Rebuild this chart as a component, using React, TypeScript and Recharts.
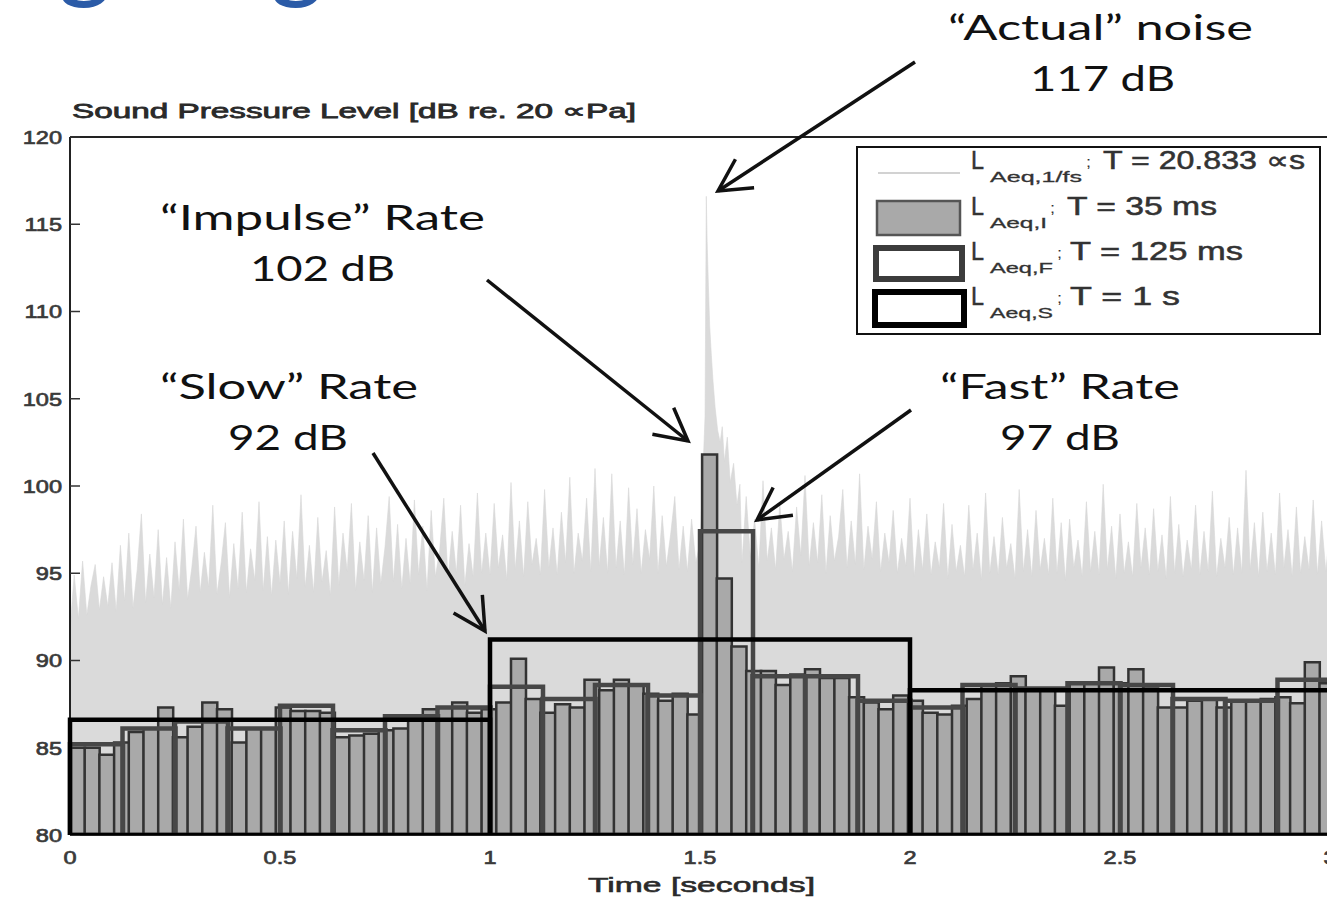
import React from "react"
import { ComposedChart, BarChart, Bar, Area, XAxis, YAxis } from "recharts"

const W = 1345
const H = 899
const PLOT = { left: 70, top: 137, right: 1330, bottom: 835 }
const SPAN = 3 // seconds
const PX_PER_S = (PLOT.right - PLOT.left) / SPAN

const xTicks = [0, 0.5, 1, 1.5, 2, 2.5, 3]
const yTicks = [80, 85, 90, 95, 100, 105, 110, 115, 120]

// L_Aeq,1/fs trace read every 10 ms, the impulse window is listed on its own
const noiseStep = 0.01
const noiseDbA = [
  91.8, 94.9, 92.4, 95.7, 92.6, 94.3, 95.5, 92.9, 94.8, 93.1,
  95.6, 92.8, 96.6, 93.4, 97.3, 93.0, 95.2, 98.4, 93.3, 96.1,
  93.6, 97.5, 93.2, 95.9, 93.0, 96.8, 94.0, 98.1, 93.5, 95.3,
  97.7, 93.9, 96.2, 94.2, 98.9, 93.8, 95.6, 97.9, 93.6, 96.7,
  94.1, 98.5, 93.9, 96.4, 94.6, 99.1, 94.0, 97.1, 93.7, 96.9,
  94.4, 98.0, 93.8, 97.4, 94.7, 99.5, 94.2, 96.6, 93.9, 98.2,
  94.5, 96.3, 93.7, 98.8, 94.3, 97.3, 95.1, 99.0, 94.0, 96.8,
  94.6, 98.3, 93.9, 97.6, 94.4, 96.5, 99.4, 94.5, 97.8, 94.1,
  97.0, 94.4, 99.2, 94.9, 97.7, 94.0, 98.6, 94.8, 96.3, 99.3,
  94.7, 97.4, 95.0, 98.9, 94.3, 96.7, 94.8, 99.6, 95.0, 97.3,
  94.9, 99.0, 95.3, 97.2, 94.6, 100.2, 95.2, 98.0, 94.8, 99.1,
  95.5, 97.0, 94.9, 99.8, 95.3, 97.6, 94.9, 98.5, 95.6, 100.5,
  95.0, 97.3, 95.7, 99.3, 95.1, 101.0, 95.4, 98.2, 95.0, 100.7,
  95.3, 98.0, 94.9, 99.9, 95.5, 98.7, 95.0, 97.5, 95.8, 100.0,
  95.0, 98.3, 95.4, 97.2, 99.4, 95.2, 97.7, 95.1, 98.1, 95.6,
  96.8,
]
const peakT = [1.505, 1.512, 1.515, 1.517, 1.52, 1.523, 1.527, 1.531, 1.536, 1.542, 1.548, 1.553, 1.558, 1.565, 1.572, 1.58, 1.588, 1.595]
const peakDb = [99.5, 104.0, 116.6, 114.0, 111.5, 109.2, 107.5, 106.0, 104.5, 103.2, 102.5, 103.4, 101.4, 102.8, 100.2, 101.3, 98.9, 100.1]
const noiseStartB = 1.6
const noiseDbB = [
  95.6, 99.4, 95.9, 98.1, 95.3, 100.3, 95.7, 97.6, 95.2, 99.0,
  95.8, 97.4, 95.1, 98.8, 96.0, 100.6, 95.4, 97.9, 95.6, 99.5,
  95.0, 98.3, 95.7, 97.1, 99.8, 95.3, 98.0, 95.5, 100.7, 95.2,
  97.7, 95.8, 99.1, 95.1, 97.3, 95.6, 98.6, 95.0, 97.0, 95.4,
  99.3, 94.8, 97.5, 95.2, 98.4, 94.9, 96.8, 95.3, 99.0, 94.7,
  97.8, 95.1, 96.6, 94.8, 98.9, 95.2, 97.3, 94.6, 99.6, 95.0,
  97.1, 94.9, 98.2, 95.3, 96.7, 94.7, 99.8, 95.1, 97.5, 94.8,
  98.6, 95.2, 97.0, 94.9, 99.3, 95.0, 97.9, 94.6, 98.1, 95.3,
  96.9, 94.8, 99.1, 95.1, 97.4, 94.9, 100.1, 95.2, 97.7, 94.7,
  98.4, 95.0, 96.8, 94.8, 99.0, 95.3, 97.6, 94.9, 98.7, 95.1,
  97.2, 94.7, 99.4, 95.0, 97.8, 94.8, 96.9, 95.2, 98.9, 94.9,
  97.4, 95.1, 99.7, 94.8, 97.0, 95.3, 98.2, 94.9, 97.6, 95.0,
  100.9, 95.2, 97.9, 94.8, 98.5, 95.1, 97.3, 94.9, 99.6, 95.3,
  97.5, 94.8, 98.8, 95.0, 97.1, 95.2, 99.2, 94.9, 98.0, 95.1,
  97.6,
]

// L_Aeq,I  T = 35 ms
const impulseWin = 0.035
const impulseDb = [
  85.0, 85.0, 84.6, 85.3, 85.9, 86.1, 87.3, 85.6, 86.2, 87.6,
  87.2, 85.3, 86.1, 86.1, 87.3, 87.1, 87.1, 87.0, 85.6, 85.7,
  85.8, 86.0, 86.1, 86.8, 87.2, 87.3, 87.6, 87.0, 87.2, 87.6,
  90.1, 87.8, 87.0, 87.5, 87.3, 88.9, 88.3, 88.9, 88.6, 88.1,
  87.7, 88.1, 86.9, 101.8, 94.7, 90.8, 89.4, 89.4, 88.6, 89.2,
  89.5, 89.0, 89.0, 87.9, 87.6, 87.2, 88.0, 87.7, 87.0, 86.9,
  87.4, 87.8, 88.6, 88.7, 89.1, 88.4, 88.3, 87.4, 88.7, 88.7,
  89.6, 88.7, 89.5, 88.4, 87.3, 87.3, 87.7, 87.8, 87.3, 87.7,
  87.7, 87.8, 87.9, 87.55, 89.9, 88.7,
]

// L_Aeq,F  T = 125 ms
const fastWin = 0.125
const fastDb = [
  85.2, 86.1, 86.5, 86.1, 87.4, 86.0, 86.8, 87.3,
  88.5, 87.8, 88.6, 88.0, 97.4, 89.1, 89.1, 87.7,
  87.3, 88.6, 88.4, 88.7, 88.6, 87.8, 87.7, 88.9,
]

// L_Aeq,S  T = 1 s
const slowWin = 1
const slowDb = [86.6, 91.2, 88.3]

const noiseData = [
  ...noiseDbA.map((db, i) => ({ t: +(i * noiseStep).toFixed(3), db })),
  ...peakT.map((t, i) => ({ t, db: peakDb[i] })),
  ...noiseDbB.map((db, i) => ({ t: +(noiseStartB + i * noiseStep).toFixed(3), db })),
]
const impulseData = impulseDb.map((db, k) => ({ k, db }))
const fastData = fastDb.map((db, k) => ({ k, db }))
const slowData = slowDb.map((db, k) => ({ k, db }))

const SANS = "'Liberation Sans', Arial, sans-serif"
const SLIDE = "Lato, 'Open Sans', sans-serif"
const STRETCH = 1.24

const layer: React.CSSProperties = { position: "absolute", left: 0, top: 0 }

function barMargin(count: number, win: number) {
  const width = count * win * PX_PER_S
  return { top: PLOT.top, bottom: H - PLOT.bottom, left: PLOT.left, right: W - PLOT.left - width }
}

const YTick = (props: any) => {
  const { x, y, payload } = props
  return (
    <text x={x} y={y} dy="0.36em" textAnchor="end" fontFamily={SANS} fontSize={19} fill="#3a3a3a"
      stroke="#3a3a3a" strokeWidth={0.7}
      transform={`translate(${x},0) scale(${STRETCH},1) translate(${-x},0)`}>
      {payload.value}
    </text>
  )
}

const XTick = (props: any) => {
  const { x, y, payload } = props
  return (
    <text x={x} y={y} dy="0.8em" textAnchor="middle" fontFamily={SANS} fontSize={19} fill="#3a3a3a"
      stroke="#3a3a3a" strokeWidth={0.7}
      transform={`translate(${x},0) scale(${STRETCH},1) translate(${-x},0)`}>
      {payload.value}
    </text>
  )
}

function Txt({ x, y, w, size, children, family = SANS, fill = "#222", heavy = 0 }: any) {
  return (
    <text x={x} y={y} fontSize={size} fontFamily={family} fill={fill} stroke={heavy ? fill : "none"} strokeWidth={heavy}
      textLength={w} lengthAdjust="spacingAndGlyphs">
      {children}
    </text>
  )
}

function LegendLabel({ y, sub, subW, semiX, rest, restX, restW }: any) {
  return (
    <g>
      <Txt x={971} y={y} w={13} size={26} fill="#333" heavy={0.5}>L</Txt>
      <Txt x={990} y={y + 13} w={subW} size={15} fill="#333" heavy={0.3}>{sub}</Txt>
      <Txt x={semiX} y={y - 2} w={5} size={14} fill="#333">;</Txt>
      <Txt x={restX} y={y} w={restW} size={25} fill="#333" heavy={0.5}>{rest}</Txt>
    </g>
  )
}

function Overlay() {
  return (
    <svg width={1327} height={899} style={{ ...layer, pointerEvents: "none" }}>
      <defs>
        <marker id="head" viewBox="-36 -22 40 44" markerWidth={40} markerHeight={44} refX={0} refY={0}
          orient="auto" markerUnits="userSpaceOnUse">
          <path d="M-32,-17 L0,0 L-32,17" fill="none" stroke="#111" strokeWidth={3.5} />
        </marker>
      </defs>

      {/* cut-off slide heading */}
      <g transform="translate(60,0) scale(1.2,1)">
        <text x={0} y={-7} fontFamily={SLIDE} fontWeight="bold" fontSize={78} fill="#2b5ba7">g</text>
      </g>
      <g transform="translate(272,0) scale(1.2,1)">
        <text x={0} y={-7} fontFamily={SLIDE} fontWeight="bold" fontSize={78} fill="#2b5ba7">g</text>
      </g>

      <Txt x={72} y={118} w={564} size={21} fill="#2a2a2a" heavy={0.8}>Sound Pressure Level [dB re. 20 ∝Pa]</Txt>
      <Txt x={588} y={892} w={227} size={21} fill="#2a2a2a" heavy={0.6}>Time [seconds]</Txt>

      {/* legend */}
      <rect x={857} y={147} width={463} height={187} fill="#fff" stroke="#111" strokeWidth={2} />
      <line x1={878} y1={173} x2={960} y2={173} stroke="#d2d2d2" strokeWidth={2} />
      <rect x={877} y={201} width={83} height={34} fill="#a9a9a9" stroke="#555" strokeWidth={2.5} />
      <rect x={876} y={248} width={86} height={31} fill="#fff" stroke="#3c3c3c" strokeWidth={6} />
      <rect x={875} y={292} width={89} height={33} fill="#fff" stroke="#000" strokeWidth={6} />
      <LegendLabel y={169} sub="Aeq,1/fs" subW={92} semiX={1086} rest="T = 20.833 ∝s" restX={1103} restW={202} />
      <LegendLabel y={215} sub="Aeq,I" subW={57} semiX={1050} rest="T = 35 ms" restX={1067} restW={150} />
      <LegendLabel y={260} sub="Aeq,F" subW={63} semiX={1057} rest="T = 125 ms" restX={1070} restW={173} />
      <LegendLabel y={305} sub="Aeq,S" subW={63} semiX={1057} rest="T = 1 s" restX={1070} restW={110} />

      {/* annotations */}
      <Txt x={948} y={40} w={305} size={35} family={SLIDE} fill="#111">“Actual” noise</Txt>
      <Txt x={1030} y={91} w={145} size={35} family={SLIDE} fill="#111">117 dB</Txt>
      <Txt x={160} y={230} w={325} size={35} family={SLIDE} fill="#111">“Impulse” Rate</Txt>
      <Txt x={250} y={281} w={145} size={35} family={SLIDE} fill="#111">102 dB</Txt>
      <Txt x={160} y={399} w={258} size={35} family={SLIDE} fill="#111">“Slow” Rate</Txt>
      <Txt x={228} y={450} w={120} size={35} family={SLIDE} fill="#111">92 dB</Txt>
      <Txt x={940} y={399} w={240} size={35} family={SLIDE} fill="#111">“Fast” Rate</Txt>
      <Txt x={1000} y={450} w={120} size={35} family={SLIDE} fill="#111">97 dB</Txt>

      <g stroke="#111" strokeWidth={3.5} markerEnd="url(#head)">
        <line x1={915} y1={62} x2={718} y2={191} />
        <line x1={487} y1={280} x2={688} y2={441} />
        <line x1={373} y1={453} x2={485} y2={631} />
        <line x1={911} y1={410} x2={757} y2={520} />
      </g>
    </svg>
  )
}

export default function App() {
  return (
    <div style={{ position: "absolute", left: 0, top: 0, width: 1327, height: 899, overflow: "hidden", background: "#fff" }}>
      <div style={layer}>
        <ComposedChart width={W} height={H} data={noiseData} margin={{ top: PLOT.top - 20, right: W - PLOT.right - 15, bottom: 0, left: PLOT.left - 60 }}>
          <XAxis xAxisId="t" dataKey="t" type="number" domain={[0, SPAN]} ticks={xTicks} allowDataOverflow interval={0}
            height={H - PLOT.bottom} tickSize={-10} tickMargin={24} tick={XTick}
            axisLine={{ stroke: "#222", strokeWidth: 2 }} tickLine={{ stroke: "#333", strokeWidth: 1.5 }} />
          <XAxis xAxisId="top" orientation="top" type="number" domain={[0, SPAN]} ticks={xTicks} allowDataOverflow interval={0}
            height={20} tickSize={-10} tick={false}
            axisLine={{ stroke: "#222", strokeWidth: 2 }} tickLine={{ stroke: "#333", strokeWidth: 1.5 }} />
          <YAxis yAxisId="l" type="number" domain={[80, 120]} ticks={yTicks} allowDataOverflow interval={0}
            width={60} tickSize={-10} tickMargin={18} tick={YTick}
            axisLine={{ stroke: "#222", strokeWidth: 2 }} tickLine={{ stroke: "#333", strokeWidth: 1.5 }} />
          <YAxis yAxisId="r" orientation="right" type="number" domain={[80, 120]} ticks={yTicks} allowDataOverflow interval={0}
            width={15} tickSize={-10} tick={false}
            axisLine={{ stroke: "#222", strokeWidth: 2 }} tickLine={{ stroke: "#333", strokeWidth: 1.5 }} />
          <Area xAxisId="t" yAxisId="l" dataKey="db" type="linear" fill="#dadada" fillOpacity={1}
            stroke="#d6d6d6" strokeWidth={0.6} dot={false} activeDot={false} isAnimationActive={false} />
        </ComposedChart>
      </div>

      <div style={layer}>
        <BarChart width={W} height={H} data={impulseData} margin={barMargin(impulseDb.length, impulseWin)} barCategoryGap={0} barGap={0}>
          <XAxis dataKey="k" hide />
          <YAxis type="number" domain={[80, 120]} allowDataOverflow hide />
          <Bar dataKey="db" fill="#a9a9a9" stroke="#333" strokeWidth={2.5} isAnimationActive={false} />
        </BarChart>
      </div>

      <div style={layer}>
        <BarChart width={W} height={H} data={fastData} margin={barMargin(fastDb.length, fastWin)} barCategoryGap={0} barGap={0}>
          <XAxis dataKey="k" hide />
          <YAxis type="number" domain={[80, 120]} allowDataOverflow hide />
          <Bar dataKey="db" fill="none" stroke="#474747" strokeWidth={4.5} isAnimationActive={false} />
        </BarChart>
      </div>

      <div style={layer}>
        <BarChart width={W} height={H} data={slowData} margin={barMargin(slowDb.length, slowWin)} barCategoryGap={0} barGap={0}>
          <XAxis dataKey="k" hide />
          <YAxis type="number" domain={[80, 120]} allowDataOverflow hide />
          <Bar dataKey="db" fill="none" stroke="#000" strokeWidth={4.5} isAnimationActive={false} />
        </BarChart>
      </div>

      <Overlay />
    </div>
  )
}
